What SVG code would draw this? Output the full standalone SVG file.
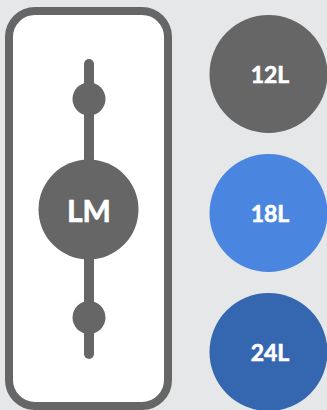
<svg xmlns="http://www.w3.org/2000/svg" width="327" height="410" viewBox="0 0 327 410">
<style>
.g{fill:#666666}
.t{font-family:Lato,"Liberation Sans",sans-serif;font-weight:bold;fill:#ffffff;stroke:#ffffff;stroke-width:0.6;text-anchor:middle}
</style>
<rect width="327" height="410" fill="#e6e7e8"/>
<g id="frame">
<rect x="9" y="11" width="159" height="395" rx="26" ry="26" fill="#ffffff" stroke="#666666" stroke-width="8"/>
</g>
<g id="connectors">
<line x1="89" y1="64" x2="89" y2="354" stroke="#666666" stroke-width="10" stroke-linecap="round"/>
</g>
<g id="knob-top"><circle class="g" cx="89" cy="99" r="16.5"/></g>
<g id="knob-bottom"><circle class="g" cx="89" cy="317.5" r="16.5"/></g>
<g id="lm"><circle class="g" cx="88.5" cy="209.5" r="50"/><text class="t" x="89" y="221.5" font-size="30">LM</text></g>
<g id="n12"><circle class="g" cx="268.5" cy="74" r="59"/><text class="t" x="270" y="82.7" font-size="23">12L</text></g>
<g id="n18"><circle fill="#4a86df" cx="268.5" cy="213" r="59"/><text class="t" x="270" y="221.7" font-size="23">18L</text></g>
<g id="n24"><circle fill="#3566b0" cx="268.5" cy="352" r="59"/><text class="t" x="270" y="361" font-size="23">24L</text></g>
</svg>
